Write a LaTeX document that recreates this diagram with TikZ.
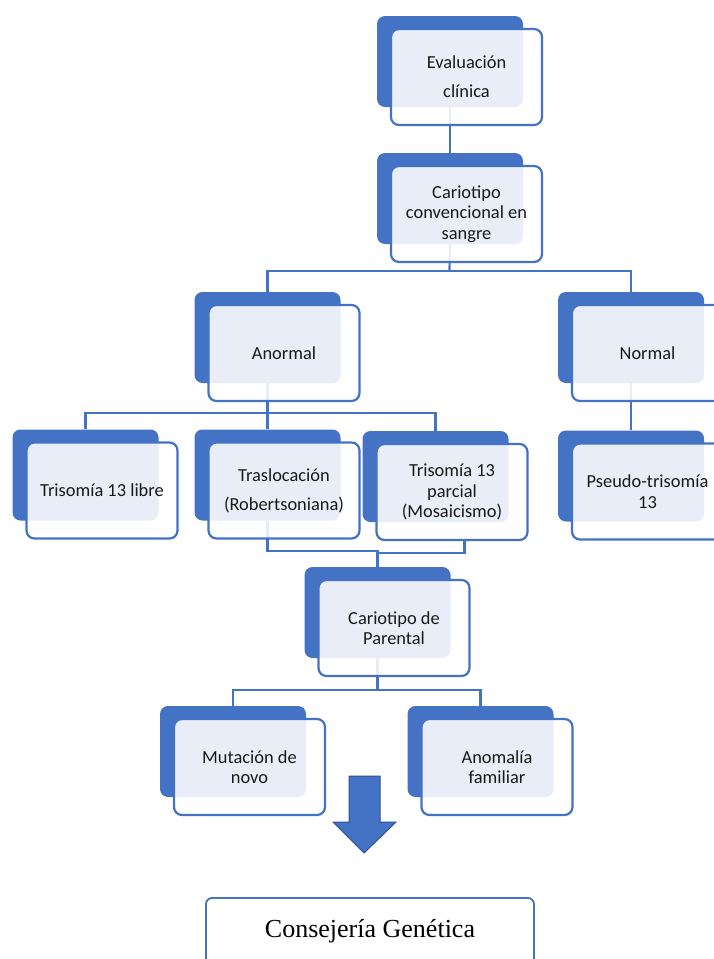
\documentclass[tikz,border=0pt]{standalone}
\usepackage{fontspec}
\setmainfont{Carlito}
\newfontfamily\timesf{Liberation Serif}
\definecolor{sblue}{HTML}{4472C4}
\definecolor{sdark}{HTML}{2F528F}
\pgfdeclarelayer{bg}
\pgfsetlayers{bg,main}
\newcommand\smartbox[4]{%
  \node[backbox] (#1-b) at (#2,#3) {};
  \node[frontbox] (#1) at (#2+16.5,#3+15.5) {#4};}
\begin{document}
\begin{tikzpicture}[x=1pt,y=-1pt,
  backbox/.style={draw=none, fill=sblue, rounded corners=8pt, minimum width=146pt, minimum height=91pt, inner sep=0pt},
  frontbox/.style={draw=sblue, line width=2.2pt, fill=white, fill opacity=0.88, text opacity=1, rounded corners=8pt, minimum width=151pt, minimum height=96pt, inner sep=0pt, align=center, font=\fontsize{18.4}{20.5}\selectfont, text=black!90},
  conn/.style={draw=sblue, line width=2.2pt}]
\useasboundingbox (0,0) rectangle (714,959);

\smartbox{eval}{450}{61.5}{Evaluación\\[8.5pt]clínica}
\smartbox{cario}{450}{198.5}{Cariotipo\\convencional en\\sangre}
\smartbox{anormal}{267.5}{337.5}{Anormal}
\smartbox{normal}{631}{337.5}{Normal}
\smartbox{libre}{85.5}{475}{Trisomía 13 libre}
\smartbox{trasl}{267.5}{475}{Traslocación\\[8.5pt](Robertsoniana)}
\smartbox{parcial}{435.5}{476.5}{Trisomía 13\\parcial\\(Mosaicismo)}
\smartbox{pseudo}{631}{476}{Pseudo-trisomía\\13}
\smartbox{parental}{377.5}{612.5}{Cariotipo de\\Parental}
\smartbox{mut}{233}{751.5}{Mutación de\\novo}
\smartbox{anom}{480.5}{751.5}{Anomalía\\familiar}

\node[draw=sblue, line width=1.8pt, rounded corners=6pt, minimum width=328pt, minimum height=66pt, inner sep=0pt, font=\timesf\fontsize{26}{30}\selectfont] (cons) at (370,931) {Consejería Genética};

\draw[fill=sblue, draw=sdark, line width=1pt, line join=miter]
  (349,776) -- (380,776) -- (380,822) -- (396,822) -- (364,853) -- (333,822) -- (349,822) -- cycle;

\begin{pgfonlayer}{bg}
\fill[white] (0,0) rectangle (714,959);
\coordinate (j1) at (449.5,271);
\coordinate (j2) at (267.5,413);
\coordinate (j3) at (377.5,551);
\coordinate (j4) at (377.5,553);
\coordinate (j5) at (377.5,690);
\draw[conn] (eval-b.south) -- (cario-b.north);
\draw[conn] (cario-b.south) -- (j1);
\draw[conn] (anormal-b.north) |- (j1) -| (normal-b.north);
\draw[conn] (anormal-b.south) -- (j2);
\draw[conn] (libre-b.north) |- (j2) -| (parcial-b.north);
\draw[conn] (j2) -- (trasl-b.north);
\draw[conn] (normal-b.south) -- (pseudo-b.north);
\draw[conn] (trasl-b.south) |- (j3) -- (parental-b.north);
\draw[conn] ([xshift=12.5pt]parcial.south) |- (j4);
\draw[conn] (parental-b.south) -- (j5);
\draw[conn] (mut-b.north) |- (j5) -| (anom-b.north);
\end{pgfonlayer}
\end{tikzpicture}
\end{document}
